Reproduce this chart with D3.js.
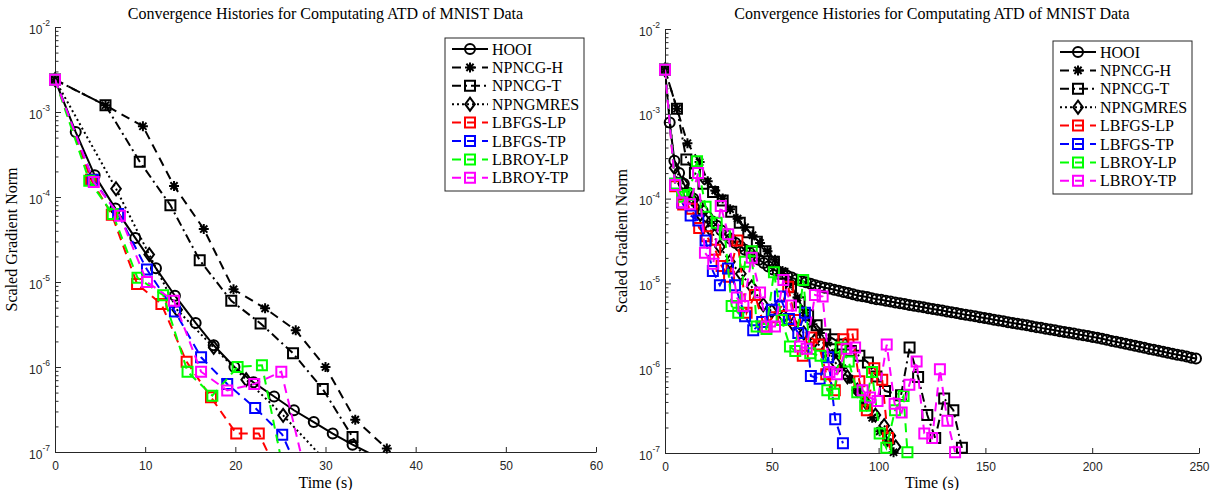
<!DOCTYPE html>
<html>
<head>
<meta charset="utf-8">
<script src="https://cdn.jsdelivr.net/npm/d3@7"></script>
<style>
body{margin:0;background:#fff}
</style>
</head>
<body>
<svg id="chart"></svg>
<script>
// ---- data (time in s, scaled gradient norm) ----
const seriesNames = ["HOOI","NPNCG-H","NPNCG-T","NPNGMRES","LBFGS-LP","LBFGS-TP","LBROY-LP","LBROY-TP"]
const titleText = "Convergence Histories for Computating ATD of MNIST Data"
const xLabelText = "Time (s)"
const yLabelText = "Scaled Gradient Norm"
const xTicksLeft = [0,10,20,30,40,50,60]
const xTicksRight = [0,50,100,150,200,250]
const yMajorTicks = [1e-7,1e-6,1e-5,1e-4,1e-3,1e-2]
const yTickExponents = ["-7","-6","-5","-4","-3","-2"]

// left panel
const hooiL_t = [0,2.3,4.4,6.7,8.9,11.2,13.3,15.6,17.6,19.9,22.0,24.3,26.5,28.7,30.8,33.0,35.2]
const hooiL_v = [2.4e-3,5.8e-4,1.8e-4,7.3e-5,3.3e-5,1.45e-5,6.9e-6,3.3e-6,1.8e-6,1.0e-6,6.6e-7,4.5e-7,3.1e-7,2.25e-7,1.65e-7,1.22e-7,9.3e-8]
const npncgHL_t = [0,5.6,9.75,13.2,16.5,19.8,23.3,26.7,30.0,33.3,36.8]
const npncgHL_v = [2.4e-3,1.2e-3,6.8e-4,1.35e-4,4.2e-5,8.2e-6,4.9e-6,2.7e-6,1.0e-6,2.4e-7,1.1e-7]
const npncgTL_t = [0,5.6,9.4,12.8,16.05,19.55,22.8,26.4,29.7,33.0,34.4]
const npncgTL_v = [2.4e-3,1.2e-3,2.6e-4,8.0e-5,1.8e-5,6.0e-6,3.25e-6,1.45e-6,5.5e-7,1.5e-7,8e-8]
const npngmresL_t = [0,6.77,10.45,13.55,17.6,21.2,25.3,29.5]
const npngmresL_v = [2.4e-3,1.25e-4,2.1e-5,4.7e-6,1.7e-6,7.1e-7,2.7e-7,9e-8]
const lbfgsLPL_t = [0,4.0,6.3,9.1,11.8,14.6,17.3,20.1,22.6,24.4]
const lbfgsLPL_v = [2.4e-3,1.6e-4,6.2e-5,9.5e-6,5.5e-6,1.15e-6,4.4e-7,1.65e-7,1.65e-7,6.6e-8]
const lbfgsTPL_t = [0,4.2,7.0,10.2,13.3,16.2,19.1,22.2,25.2,27.0]
const lbfgsTPL_v = [2.4e-3,1.6e-4,6.3e-5,1.4e-5,4.5e-6,1.3e-6,6.3e-7,3.3e-7,1.6e-7,6e-8]
const lbroyLPL_t = [0,3.8,6.4,9.15,12.0,14.7,17.45,20.25,22.95,25.5]
const lbroyLPL_v = [2.4e-3,1.55e-4,6.3e-5,1.12e-5,7.0e-6,8.8e-7,4.6e-7,1.0e-6,1.05e-6,5e-8]
const lbroyTPL_t = [0,4.3,7.2,10.2,13.2,16.2,19.1,22.1,25.1,27.9]
const lbroyTPL_v = [2.4e-3,1.5e-4,6.0e-5,1.0e-5,6.0e-6,8.8e-7,5.3e-7,6.3e-7,8.8e-7,5e-8]

// right panel
const hooiR_t = [0,2.2,4.4,6.6,8.8,11,13.2,15.4,17.6,19.8,22,24.2,26.4,28.6,30.8,33,35.2,37.4,39.6,41.8,44,46.2,48.4,50.6,52.8,55,57.2,59.4,61.6,63.8,66,68.2,70.4,72.6,74.8,77,79.2,81.4,83.6,85.8,88,90.2,92.4,94.6,96.8,99,101.2,103.4,105.6,107.8,110,112.2,114.4,116.6,118.8,121,123.2,125.4,127.6,129.8,132,134.2,136.4,138.6,140.8,143,145.2,147.4,149.6,151.8,154,156.2,158.4,160.6,162.8,165,167.2,169.4,171.6,173.8,176,178.2,180.4,182.6,184.8,187,189.2,191.4,193.6,195.8,198,200.2,202.4,204.6,206.8,209,211.2,213.4,215.6,217.8,220,222.2,224.4,226.6,228.8,231,233.2,235.4,237.6,239.8,242,244.2,246.4,248.6]
const hooiR_v = [3.3e-3,7.9e-4,2.8e-4,2.0e-4,1.5e-4,1.17e-4,1.0e-4,8.5e-5,7.2e-5,6.1e-5,
  5.4e-5,4.8e-5,4.2e-5,3.7e-5,3.35e-5,3.0e-5,2.75e-5,2.5e-5,2.3e-5,2.08e-5,
  1.9e-5,1.74e-5,1.58e-5,1.46e-5,1.38e-5,1.3e-5,1.23e-5,1.17e-5,1.11e-5,1.07e-5,
  1.03e-5,9.9e-6,9.5e-6,9.2e-6,8.9e-6,8.7e-6,8.4e-6,8.2e-6,7.9e-6,7.7e-6,
  7.45e-6,7.2e-6,7.05e-6,6.9e-6,6.7e-6,6.5e-6,6.4e-6,6.25e-6,6.1e-6,5.97e-6,
  5.83e-6,5.7e-6,5.58e-6,5.46e-6,5.34e-6,5.22e-6,5.1e-6,4.99e-6,4.89e-6,4.78e-6,
  4.67e-6,4.57e-6,4.47e-6,4.37e-6,4.27e-6,4.18e-6,4.09e-6,4.0e-6,3.91e-6,3.82e-6,
  3.73e-6,3.66e-6,3.57e-6,3.49e-6,3.42e-6,3.34e-6,3.27e-6,3.2e-6,3.13e-6,3.05e-6,
  2.99e-6,2.92e-6,2.86e-6,2.8e-6,2.73e-6,2.67e-6,2.62e-6,2.56e-6,2.5e-6,2.45e-6,
  2.39e-6,2.34e-6,2.28e-6,2.22e-6,2.16e-6,2.1e-6,2.05e-6,1.99e-6,1.94e-6,1.89e-6,
  1.84e-6,1.79e-6,1.74e-6,1.69e-6,1.65e-6,1.61e-6,1.56e-6,1.52e-6,1.48e-6,1.44e-6,
  1.41e-6,1.37e-6,1.33e-6,1.3e-6]
const npncgHR_t = [0,5.6,10.5,16.2,20,23.5,27,30.5,34,37.5,41,44.5,48,51.5,55,58.5,62,65.5,69,72.5,76,79.5,83,86.5,90,93.5,97,100.5,104,107]
const npncgHR_v = [3.3e-3,1.15e-3,4.5e-4,2.7e-4,1.6e-4,1.25e-4,1.0e-4,7.5e-5,5.8e-5,4.6e-5,3.7e-5,3.0e-5,2.4e-5,1.9e-5,1.4e-5,1.0e-5,6.8e-6,4.5e-6,3.3e-6,2.6e-6,2.0e-6,1.5e-6,1.0e-6,7.5e-7,5.5e-7,4.0e-7,2.6e-7,1.8e-7,1.35e-7,1.02e-7]
const npncgTR_t = [0,5.6,10,14,18,22.5,27,31,35,39,43,47,51,55,59,63,67,71,75,79,83,87,91,95,99,103,110.5,114.5,118.5,122.8,126.5,130.7,135,139]
const npncgTR_v = [3.3e-3,1.15e-3,2.9e-4,2.0e-4,1.5e-4,1.2e-4,9.5e-5,7.0e-5,5.2e-5,4.0e-5,3.1e-5,2.4e-5,1.8e-5,1.3e-5,9.0e-6,6.0e-6,4.2e-6,3.2e-6,2.5e-6,2.2e-6,1.9e-6,1.6e-6,1.4e-6,1.17e-6,8.0e-7,5.4e-7,4.8e-7,1.75e-6,7.9e-7,2.8e-7,1.5e-7,4.4e-7,3.2e-7,1.15e-7]
const npngmresR_t = [0,4.5,8.5,12.5,16.5,21,25.7,30.4,35.5,40.6,46,50,55.6,60,65,70,75,80,85.4,90,94.5,98.5,102.6,105.5,108]
const npngmresR_v = [3.3e-3,2.3e-4,1.5e-4,1.0e-4,6.5e-5,4.4e-5,2.7e-5,1.8e-5,1.3e-5,9.1e-6,5.6e-6,4.7e-6,4.1e-6,3.3e-6,2.6e-6,2.1e-6,1.6e-6,1.15e-6,7.9e-7,5.5e-7,3.8e-7,2.8e-7,2.1e-7,1.6e-7,1.18e-7]
const lbfgsLPR_t = [0,4.8,8.5,12.5,16,19.5,23.5,26.5,30,33.9,38.2,42.1,46.5,50.5,54.6,57.7,60.9,64.5,68.5,72,75.5,79.5,83.5,87.8,91,94.5,98,101.7,104.4,106.5]
const lbfgsLPR_v = [3.3e-3,1.4e-4,8.5e-5,7.6e-5,4.5e-5,3.6e-5,2.5e-5,1.6e-5,1.2e-5,3.2e-5,4.5e-6,7.3e-6,3.1e-6,4.0e-6,5.4e-6,9.1e-6,3.7e-6,1.4e-6,2.3e-6,1.9e-6,8.5e-7,5.5e-7,2.2e-6,2.5e-6,7.0e-7,3.2e-7,1.0e-6,7.3e-7,1.5e-7,8e-8]
const lbfgsTPR_t = [0,4.8,8,12,15.6,19,22.4,25.7,29.5,32.8,37.5,41.3,45.5,50,53.8,58,62.4,65.5,68.3,72.4,76.4,79.7,83.3]
const lbfgsTPR_v = [3.3e-3,1.5e-4,9.0e-5,6.3e-5,5.5e-5,3.2e-5,1.4e-5,9.5e-6,1.5e-5,9.5e-6,4.1e-6,2.8e-6,3.5e-6,4.9e-6,7.0e-6,3.8e-6,2.6e-6,4.5e-6,8.1e-7,7.5e-7,1.35e-6,2.5e-7,1.3e-7]
const lbroyLPR_t = [0,4.8,8,11,15,19,24.2,28,31.2,34.3,37.5,40.6,42.9,47.5,51,54.6,58.5,61,64.7,68,72.8,76,79.1,82.2,86,90,93.7,96.9,100.5,103.6,107.7,111.7,113.5]
const lbroyLPR_v = [3.3e-3,1.5e-4,1.05e-4,1.1e-4,2.75e-4,8.0e-5,5.2e-5,3.8e-5,5.4e-6,4.5e-6,1.8e-5,2.4e-5,3.1e-6,2.9e-6,1.35e-5,3.7e-6,1.8e-6,1.6e-6,1.1e-5,1.5e-6,1.4e-6,5.5e-7,5.0e-7,1.75e-6,1.2e-6,5.2e-7,3.6e-7,9.0e-7,1.7e-7,1.15e-7,3.2e-7,4.7e-7,1.02e-7]
const lbroyTPR_t = [0,4.7,8.1,11.7,15.5,18.7,22.6,26.1,29.6,33.6,36.7,40.6,44.5,47.6,51.5,55.4,59,63.2,66.3,70.2,73.8,77,80.5,85,89,92.5,96,99.5,103.8,107.5,110.8,114.4,117.8,121.4,125.1,128.7,132.2,135.8]
const lbroyTPR_v = [3.3e-3,1.45e-4,9.0e-5,8.6e-5,2.0e-4,2.3e-5,1.7e-5,8.2e-5,3.8e-5,6.8e-6,5.4e-6,2.0e-5,7.8e-6,3.1e-6,3.1e-6,1.1e-5,5.5e-6,1.8e-6,1.7e-6,7.3e-6,7.0e-6,9.0e-7,8.5e-7,1.7e-6,1.75e-6,5.5e-7,4.5e-7,4.1e-7,1.9e-6,3.8e-7,3.0e-7,6.4e-7,1.2e-6,1.7e-7,1.5e-7,9.7e-7,2.4e-7,1.02e-7]

// ---- styles ----
const w = 1219, h = 490
const axisColor = "#262626"
const serif = "'Liberation Serif', 'Times New Roman', serif"
const sans = "'Liberation Sans', Arial, sans-serif"
const colors = ["#000","#000","#000","#000","#ff0000","#0000ff","#00ff00","#ff00ff"]
const dashes = ["none","9,6","9,4,2,4","2,3","9,6","9,6","9,6","9,6"]
const markers = ["circle","star","square","diamond","square","square","square","square"]
const markerPath = {
  circle: "M5,0A5,5 0 1,1 -5,0A5,5 0 1,1 5,0Z",
  square: "M-5,-5H5V5H-5Z",
  diamond: "M0,-6.5L4.8,0L0,6.5L-4.8,0Z",
  star: "M-5,0H5M0,-5V5M-3.6,-3.6L3.6,3.6M-3.6,3.6L3.6,-3.6"
}

let svg = d3.select("#chart").attr("width", w).attr("height", h)

let drawPanel = (p) => {
  let xScale = d3.scaleLinear().domain([0, p.xMax]).range([p.left, p.right])
  let yScale = d3.scaleLog().domain([1e-7, 1e-2]).range([p.bottom, p.top])
  let g = svg.append("g").attr("id", p.id)

  // clip so the lines stop at the axes
  g.append("clipPath").attr("id", p.id + "-clip").append("rect")
    .attr("x", p.left).attr("y", p.top)
    .attr("width", p.right - p.left).attr("height", p.bottom - p.top)

  // x axis, ticks pointing inward like matlab
  let xAxis = d3.axisBottom(xScale).tickValues(p.xTicks).tickSizeInner(-5).tickSizeOuter(0).tickPadding(9)
  let xg = g.append("g").attr("transform", "translate(0," + p.bottom + ")").call(xAxis)
  xg.select(".domain").attr("stroke", axisColor)
  xg.selectAll(".tick line").attr("stroke", axisColor)
  xg.selectAll(".tick text").attr("fill", axisColor).attr("font-family", sans).attr("font-size", 12)

  // y axis: major + minor log ticks
  let minor = []
  for (let k = -7; k < -2; k++) for (let m = 2; m < 10; m++) minor.push(m * Math.pow(10, k))
  let yg = g.append("g").attr("transform", "translate(" + p.left + ",0)")
    .call(d3.axisLeft(yScale).tickValues(yMajorTicks).tickSizeInner(-6).tickSizeOuter(0).tickFormat(""))
  g.append("g").attr("transform", "translate(" + p.left + ",0)")
    .call(d3.axisLeft(yScale).tickValues(minor).tickSizeInner(-3.5).tickSizeOuter(0).tickFormat(""))
    .call(a => a.select(".domain").remove())
    .selectAll(".tick line").attr("stroke", axisColor)
  yg.select(".domain").attr("stroke", axisColor)
  yg.selectAll(".tick line").attr("stroke", axisColor)

  // 10^k labels
  yMajorTicks.forEach((v, i) => {
    let t = g.append("text").attr("x", p.left - 5).attr("y", yScale(v) + 6.5)
      .attr("text-anchor", "end").attr("font-family", sans).attr("fill", axisColor).attr("font-size", 12)
    t.append("tspan").text("10")
    t.append("tspan").attr("dy", -7.5).attr("font-size", 8.5).text(yTickExponents[i])
  })

  // title and axis labels
  g.append("text").attr("x", (p.left + p.right) / 2).attr("y", 19).attr("text-anchor", "middle")
    .attr("font-family", serif).attr("font-size", 16).text(titleText)
  g.append("text").attr("x", (p.left + p.right) / 2).attr("y", 488).attr("text-anchor", "middle")
    .attr("font-family", serif).attr("font-size", 16).text(xLabelText)
  g.append("text").attr("transform", "translate(" + (p.left - 38) + "," + ((p.top + p.bottom) / 2) + ") rotate(-90)")
    .attr("text-anchor", "middle").attr("font-family", serif).attr("font-size", 16).text(yLabelText)

  // lines + markers, in legend order
  let line = d3.line().x(d => xScale(d[0])).y(d => yScale(d[1]))
  p.series.forEach((s, i) => {
    let pts = d3.zip(s[0], s[1])
    g.append("path").datum(pts)
      .attr("clip-path", "url(#" + p.id + "-clip)")
      .attr("d", line)
      .attr("fill", "none").attr("stroke", colors[i]).attr("stroke-width", 2)
      .attr("stroke-dasharray", dashes[i])
    g.append("g").selectAll("path")
      .data(pts.filter(d => d[1] >= 1e-7 && d[0] <= p.xMax))
      .enter().append("path")
      .attr("transform", d => "translate(" + xScale(d[0]) + "," + yScale(d[1]) + ")")
      .attr("d", markerPath[markers[i]])
      .attr("fill", "none").attr("stroke", colors[i]).attr("stroke-width", 2)
  })

  // legend
  let lg = g.append("g").attr("transform", "translate(" + p.legendX + "," + p.legendY + ")")
  lg.append("rect").attr("width", 139).attr("height", 153)
    .attr("fill", "#fff").attr("stroke", axisColor).attr("stroke-width", 1)
  seriesNames.forEach((name, i) => {
    let yy = 11 + i * 18.4
    lg.append("line").attr("x1", 7).attr("x2", 43).attr("y1", yy).attr("y2", yy)
      .attr("stroke", colors[i]).attr("stroke-width", 2).attr("stroke-dasharray", dashes[i])
    lg.append("path").attr("transform", "translate(25," + yy + ")").attr("d", markerPath[markers[i]])
      .attr("fill", "none").attr("stroke", colors[i]).attr("stroke-width", 2)
    lg.append("text").attr("x", 47).attr("y", yy + 5.5).attr("font-family", serif).attr("font-size", 16)
      .text(name)
  })
}

drawPanel({
  id: "left", left: 55, right: 596, top: 27, bottom: 452, xMax: 60, xTicks: xTicksLeft,
  legendX: 445, legendY: 38,
  series: [[hooiL_t, hooiL_v], [npncgHL_t, npncgHL_v], [npncgTL_t, npncgTL_v], [npngmresL_t, npngmresL_v],
           [lbfgsLPL_t, lbfgsLPL_v], [lbfgsTPL_t, lbfgsTPL_v], [lbroyLPL_t, lbroyLPL_v], [lbroyTPL_t, lbroyTPL_v]]
})
drawPanel({
  id: "right", left: 665, right: 1199, top: 29, bottom: 453, xMax: 250, xTicks: xTicksRight,
  legendX: 1053, legendY: 41,
  series: [[hooiR_t, hooiR_v], [npncgHR_t, npncgHR_v], [npncgTR_t, npncgTR_v], [npngmresR_t, npngmresR_v],
           [lbfgsLPR_t, lbfgsLPR_v], [lbfgsTPR_t, lbfgsTPR_v], [lbroyLPR_t, lbroyLPR_v], [lbroyTPR_t, lbroyTPR_v]]
})
</script>
</body>
</html>
